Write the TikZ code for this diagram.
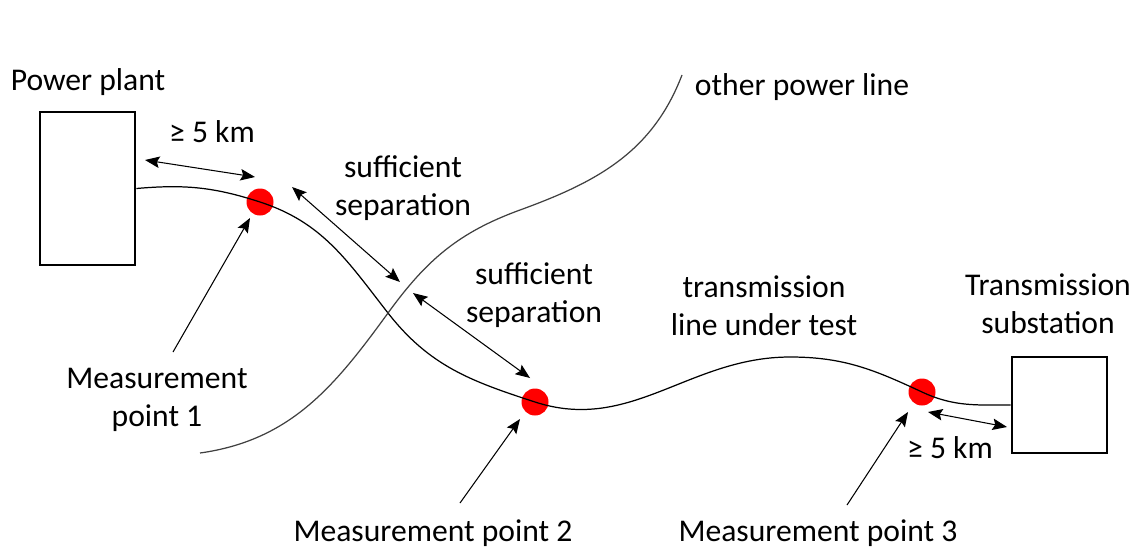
\documentclass[tikz,border=0pt]{standalone}
\usepackage{fontspec}
\setmainfont{Carlito}
\usetikzlibrary{arrows.meta}

\begin{document}
\begin{tikzpicture}[x=0.02cm, y=-0.02cm,
   >={Stealth[length=2.9mm,width=2.3mm,inset=0.5mm]},
   font=\fontsize{18}{21.5}\selectfont,
   lbl/.style={align=center, inner sep=0pt, anchor=base},
   site/.style={draw, line width=1.6pt, inner sep=0pt},
   mp/.style={circle, fill=red, inner sep=0pt, minimum size=0.54cm},
   ptr/.style={->, line width=0.6pt},
   sep/.style={<->, line width=0.6pt}]
\useasboundingbox (0,0) rectangle (1141,548);
% sites
\node[site, minimum width=1.9cm, minimum height=3.06cm] (PP) at (87.5,188.5) {};
\node[site, minimum width=1.9cm, minimum height=1.92cm] (SS) at (1059.5,405) {};
\node[lbl] (PPl) at (88,90) {Power plant};
\node[lbl] (SSl) at (1048,333) {Transmission\\substation};
% measurement points
\node[mp] (D1) at (260,202) {};
\node[mp] (D2) at (535,402) {};
\node[mp] (D3) at (922,392) {};
% line under test
\coordinate (X) at (388,313);
\coordinate (Pk) at (790,357);
\draw[line width=0.7pt] (PP.east) to[out=5,in=162] (D1.center)
   to[out=-18,in=128] (X) to[out=-52,in=162] (D2.center)
   to[out=-18,in=180] (Pk) to[out=0,in=155] (D3.center)
   to[out=-25,in=180] (SS.west);
% other power line
\coordinate (O1) at (200,453);
\coordinate (Om) at (520,210);
\coordinate (O2) at (682,75);
\draw[line width=0.7pt, black!75] (O1) to[out=8,in=234] (X)
   to[out=54,in=200] (Om) to[out=20,in=249] (O2);
\node[lbl] (OLl) at (802,95) {other power line};
\node[lbl] (TLl) at (764,335) {transmission\\line under test};
% distances
\coordinate (A1a) at (145,160); \coordinate (A1b) at (255,177);
\coordinate (A2a) at (292,187); \coordinate (A2b) at (400,282);
\coordinate (A3a) at (413,293); \coordinate (A3b) at (530,378);
\coordinate (A4a) at (928,412); \coordinate (A4b) at (1007,427);
\draw[sep] (A1a) -- (A1b);
\draw[sep] (A2a) -- (A2b);
\draw[sep] (A3a) -- (A3b);
\draw[sep] (A4a) -- (A4b);
\node[lbl] (K1) at (212,142) {≥ 5 km};
\node[lbl] (K2) at (950,458) {≥ 5 km};
\node[lbl] (S1) at (403,215) {sufficient\\separation};
\node[lbl] (S2) at (534,322) {sufficient\\separation};
% labels of measurement points
\coordinate (M1) at (173,352); \coordinate (M2) at (460,503); \coordinate (M3) at (847,505);
\coordinate (T1) at (250,218); \coordinate (T2) at (520,419); \coordinate (T3) at (908,412);
\draw[ptr] (M1) -- (T1);
\draw[ptr] (M2) -- (T2);
\draw[ptr] (M3) -- (T3);
\node[lbl] (L1) at (157,426) {Measurement\\point 1};
\node[lbl] (L2) at (433,541) {Measurement point 2};
\node[lbl] (L3) at (818,541) {Measurement point 3};
\end{tikzpicture}
\end{document}
